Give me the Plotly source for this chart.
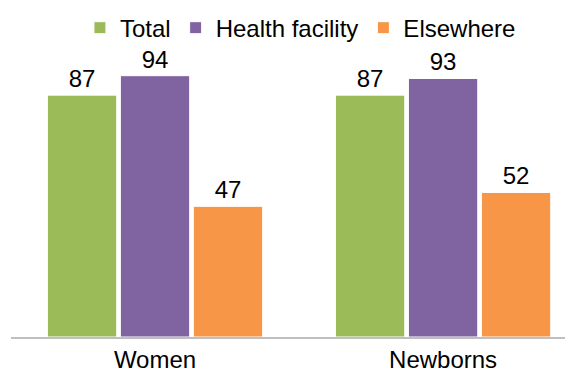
import plotly.graph_objects as go

categories = ["Women", "Newborns"]
total = [87, 87]
health_facility = [94, 93]
elsewhere = [47, 52]

series = [
    ("Total", total, "#9BBB59"),
    ("Health facility", health_facility, "#8064A2"),
    ("Elsewhere", elsewhere, "#F79646"),
]

fig = go.Figure()
for name, vals, color in series:
    fig.add_trace(go.Bar(
        x=categories, y=vals, name=name,
        marker=dict(color=color, line=dict(color="white", width=1)),
        text=[str(v) for v in vals], textposition="outside",
        textfont=dict(size=24, color="black"),
        cliponaxis=False,
    ))

# page body has an 8px margin, so the figure is sized to fill the rest of the window
fig.update_layout(
    width=565, height=365,
    margin=dict(l=3, r=0, t=51, b=36, autoexpand=False),
    paper_bgcolor="white", plot_bgcolor="white",
    font=dict(family="Liberation Sans, Arial, sans-serif", size=24, color="black"),
    barmode="group", bargap=0.24, bargroupgap=0.05,
    legend=dict(orientation="h", x=0.515, xanchor="center",
                yref="container", y=0.945, yanchor="middle",
                font=dict(size=24), itemwidth=30, tracegroupgap=0),
)
fig.update_xaxes(range=[-0.5, 1.451], showline=True, linecolor="#BFBFBF", linewidth=2,
                 ticks="", showgrid=False, zeroline=False, automargin=False)
fig.update_yaxes(range=[0, 100], visible=False, automargin=False)

fig.write_html("out.html")
